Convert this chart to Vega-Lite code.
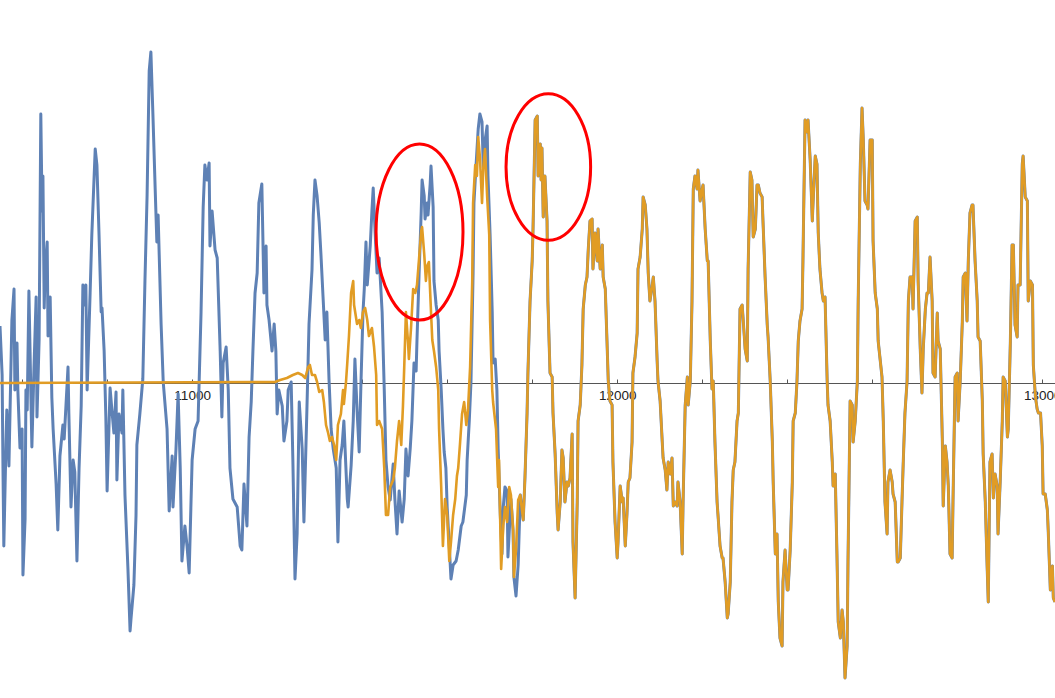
{
  "$schema": "https://vega.github.io/schema/vega-lite/v6.json",
  "width": 1055,
  "height": 698,
  "autosize": {"type": "none"},
  "padding": 0,
  "background": "white",
  "config": {"view": {"stroke": null}},
  "datasets": {
    "blue": [
      {"x":10548,"y":0.57},{"x":10553,"y":0.08},{"x":10555,"y":-0.85},{"x":10557,"y":-1.63},{"x":10562,"y":-0.62},{"x":10564,"y":-0.27},{"x":10569,"y":-0.83},{"x":10576,"y":0.63},{"x":10581,"y":0.94},{"x":10583,"y":-0.07},{"x":10588,"y":0.40},{"x":10590,"y":-0.07},{"x":10595,"y":-0.65},{"x":10600,"y":-0.46},{"x":10602,"y":-1.92},{"x":10607,"y":-1.36},{"x":10609,"y":-0.07},{"x":10612,"y":-0.27},{"x":10616,"y":0.92},{"x":10623,"y":-0.64},{"x":10628,"y":0.16},{"x":10633,"y":0.86},{"x":10635,"y":-0.34},{"x":10640,"y":0.43},{"x":10644,"y":2.69},{"x":10647,"y":1.72},{"x":10649,"y":2.07},{"x":10652,"y":0.75},{"x":10654,"y":1.10},{"x":10659,"y":1.41},{"x":10661,"y":0.47},{"x":10666,"y":0.86},{"x":10670,"y":-0.15},{"x":10673,"y":-0.46},{"x":10680,"y":-1.01},{"x":10684,"y":-1.47},{"x":10689,"y":-0.73},{"x":10696,"y":-0.42},{"x":10699,"y":-0.56},{"x":10708,"y":0.16},{"x":10710,"y":-0.31},{"x":10715,"y":-1.24},{"x":10720,"y":-0.77},{"x":10724,"y":-0.89},{"x":10729,"y":-1.78},{"x":10734,"y":-0.85},{"x":10739,"y":-0.23},{"x":10743,"y":0.98},{"x":10748,"y":0.78},{"x":10750,"y":0.98},{"x":10753,"y":-0.07},{"x":10760,"y":0.90},{"x":10764,"y":1.48},{"x":10772,"y":2.34},{"x":10776,"y":2.18},{"x":10781,"y":1.48},{"x":10786,"y":0.71},{"x":10788,"y":0.75},{"x":10793,"y":0.32},{"x":10797,"y":-0.34},{"x":10800,"y":-1.08},{"x":10807,"y":-0.05},{"x":10812,"y":-0.31},{"x":10816,"y":-0.50},{"x":10821,"y":-0.09},{"x":10823,"y":-0.97},{"x":10828,"y":-0.31},{"x":10835,"y":-0.50},{"x":10837,"y":-0.07},{"x":10842,"y":-1.12},{"x":10849,"y":-1.86},{"x":10854,"y":-2.48},{"x":10856,"y":-2.37},{"x":10863,"y":-2.02},{"x":10868,"y":-1.32},{"x":10870,"y":-0.62},{"x":10877,"y":-0.31},{"x":10884,"y":0.04},{"x":10889,"y":1.02},{"x":10894,"y":1.87},{"x":10899,"y":3.12},{"x":10903,"y":3.31},{"x":10908,"y":2.65},{"x":10913,"y":1.95},{"x":10917,"y":1.41},{"x":10920,"y":1.68},{"x":10927,"y":0.59},{"x":10932,"y":0.01},{"x":10941,"y":-0.46},{"x":10946,"y":-1.28},{"x":10953,"y":-0.73},{"x":10955,"y":-1.24},{"x":10962,"y":-0.66},{"x":10967,"y":-0.11},{"x":10972,"y":-0.85},{"x":10976,"y":-1.78},{"x":10983,"y":-1.43},{"x":10988,"y":-1.63},{"x":10993,"y":-1.90},{"x":11000,"y":-0.77},{"x":11007,"y":-0.46},{"x":11014,"y":-0.38},{"x":11021,"y":0.71},{"x":11026,"y":1.76},{"x":11030,"y":2.18},{"x":11035,"y":2.03},{"x":11040,"y":2.20},{"x":11042,"y":1.37},{"x":11047,"y":1.72},{"x":11054,"y":1.33},{"x":11059,"y":1.25},{"x":11066,"y":0.32},{"x":11070,"y":-0.34},{"x":11073,"y":0.20},{"x":11080,"y":0.36},{"x":11085,"y":-0.07},{"x":11089,"y":-0.85},{"x":11096,"y":-1.16},{"x":11106,"y":-1.24},{"x":11113,"y":-1.63},{"x":11117,"y":-1.67},{"x":11122,"y":-1.01},{"x":11129,"y":-1.43},{"x":11134,"y":-0.54},{"x":11139,"y":-0.19},{"x":11143,"y":0.32},{"x":11148,"y":0.90},{"x":11153,"y":1.10},{"x":11157,"y":1.80},{"x":11164,"y":1.99},{"x":11169,"y":0.90},{"x":11174,"y":1.37},{"x":11176,"y":0.78},{"x":11181,"y":0.63},{"x":11188,"y":0.32},{"x":11193,"y":0.59},{"x":11197,"y":0.32},{"x":11200,"y":-0.31},{"x":11204,"y":-0.07},{"x":11212,"y":-0.23},{"x":11216,"y":-0.58},{"x":11223,"y":-0.38},{"x":11226,"y":-0.07},{"x":11233,"y":0.01},{"x":11237,"y":-0.77},{"x":11242,"y":-1.96},{"x":11247,"y":-1.51},{"x":11252,"y":-0.19},{"x":11259,"y":-0.66},{"x":11263,"y":-1.39},{"x":11270,"y":-0.27},{"x":11275,"y":0.59},{"x":11282,"y":1.13},{"x":11285,"y":1.68},{"x":11289,"y":2.03},{"x":11294,"y":1.87},{"x":11299,"y":1.60},{"x":11303,"y":1.29},{"x":11308,"y":0.86},{"x":11313,"y":0.43},{"x":11317,"y":0.71},{"x":11322,"y":0.04},{"x":11327,"y":-0.46},{"x":11332,"y":-0.66},{"x":11339,"y":-0.85},{"x":11343,"y":-1.59},{"x":11348,"y":-0.77},{"x":11353,"y":-0.62},{"x":11357,"y":-0.38},{"x":11365,"y":-1.16},{"x":11367,"y":-1.24},{"x":11374,"y":-0.83},{"x":11379,"y":-0.38},{"x":11383,"y":0.24},{"x":11388,"y":-0.27},{"x":11393,"y":-0.69},{"x":11397,"y":-0.03},{"x":11402,"y":0.71},{"x":11405,"y":0.94},{"x":11409,"y":1.41},{"x":11412,"y":0.98},{"x":11419,"y":1.37},{"x":11423,"y":1.72},{"x":11426,"y":1.95},{"x":11430,"y":1.56},{"x":11435,"y":1.10},{"x":11440,"y":1.25},{"x":11447,"y":0.71},{"x":11452,"y":-0.07},{"x":11456,"y":-0.77},{"x":11461,"y":-1.04},{"x":11466,"y":-1.17},{"x":11473,"y":-0.81},{"x":11477,"y":-1.16},{"x":11482,"y":-1.51},{"x":11487,"y":-1.08},{"x":11494,"y":-1.39},{"x":11499,"y":-1.16},{"x":11503,"y":-0.66},{"x":11508,"y":-0.93},{"x":11513,"y":-0.66},{"x":11517,"y":-0.38},{"x":11522,"y":0.20},{"x":11527,"y":0.12},{"x":11529,"y":0.43},{"x":11534,"y":1.10},{"x":11539,"y":1.72},{"x":11541,"y":2.03},{"x":11546,"y":1.87},{"x":11548,"y":1.64},{"x":11553,"y":1.80},{"x":11555,"y":1.68},{"x":11560,"y":1.99},{"x":11562,"y":2.17},{"x":11567,"y":1.76},{"x":11569,"y":1.02},{"x":11574,"y":0.78},{"x":11579,"y":0.63},{"x":11581,"y":0.32},{"x":11586,"y":-0.07},{"x":11590,"y":-0.46},{"x":11593,"y":-0.69},{"x":11597,"y":-0.85},{"x":11600,"y":-1.24},{"x":11605,"y":-1.63},{"x":11609,"y":-1.96},{"x":11614,"y":-1.82},{"x":11621,"y":-1.78},{"x":11626,"y":-1.67},{"x":11633,"y":-1.43},{"x":11637,"y":-1.39},{"x":11645,"y":-1.12},{"x":11647,"y":-0.77},{"x":11652,"y":-0.38},{"x":11656,"y":0.01},{"x":11661,"y":1.10},{"x":11663,"y":1.80},{"x":11668,"y":2.18},{"x":11673,"y":2.54},{"x":11677,"y":2.69},{"x":11682,"y":2.61},{"x":11685,"y":2.15},{"x":11689,"y":2.42},{"x":11694,"y":2.57},{"x":11696,"y":2.07},{"x":11701,"y":1.48},{"x":11706,"y":0.71},{"x":11708,"y":0.20},{"x":11713,"y":0.24},{"x":11717,"y":-0.07},{"x":11720,"y":-0.66},{"x":11725,"y":-1.32},{"x":11729,"y":-1.71},{"x":11732,"y":-1.24},{"x":11736,"y":-1.04},{"x":11741,"y":-1.08},{"x":11743,"y":-1.74},{"x":11750,"y":-1.16},{"x":11755,"y":-1.47},{"x":11757,"y":-1.94},{"x":11762,"y":-2.13},{"x":11767,"y":-1.82},
      {"x":11772,"y":-1.12},{"x":11776,"y":-1.27},{"x":11779,"y":-1.37},{"x":11783,"y":-0.95},{"x":11788,"y":-0.30},{"x":11790,"y":0.10},{"x":11795,"y":0.82},{"x":11800,"y":1.22},{"x":11802,"y":1.54},{"x":11807,"y":2.63},{"x":11812,"y":2.67},{"x":11814,"y":2.07},{"x":11819,"y":2.39},{"x":11821,"y":2.03},{"x":11823,"y":2.35},{"x":11826,"y":1.66},{"x":11830,"y":2.07},{"x":11835,"y":1.62},{"x":11837,"y":0.82},{"x":11842,"y":0.10},{"x":11847,"y":0.06},{"x":11849,"y":-0.30},{"x":11854,"y":-0.71},{"x":11859,"y":-1.31},{"x":11861,"y":-1.47},{"x":11866,"y":-1.19},{"x":11870,"y":-0.67},{"x":11873,"y":-0.75},{"x":11877,"y":-1.19},{"x":11882,"y":-0.99},{"x":11885,"y":-1.03},{"x":11889,"y":-0.95},{"x":11894,"y":-0.51},{"x":11896,"y":-1.59},{"x":11901,"y":-2.15},{"x":11906,"y":-1.19},{"x":11908,"y":-0.38},{"x":11913,"y":-0.22},{"x":11917,"y":0.18},{"x":11920,"y":0.74},{"x":11925,"y":0.98},{"x":11929,"y":1.06},{"x":11932,"y":1.34},{"x":11936,"y":1.62},{"x":11941,"y":1.64},{"x":11943,"y":1.14},{"x":11948,"y":1.50},{"x":11953,"y":1.22},{"x":11955,"y":1.54},{"x":11960,"y":1.14},{"x":11965,"y":1.38},{"x":11967,"y":1.06},{"x":11972,"y":0.94},{"x":11976,"y":0.42},{"x":11979,"y":0.02},{"x":11983,"y":-0.18},{"x":11988,"y":-0.22},{"x":11990,"y":-0.79},{"x":11995,"y":-1.39},{"x":12000,"y":-1.75},{"x":12002,"y":-1.59},{"x":12007,"y":-1.03},{"x":12012,"y":-1.19},{"x":12014,"y":-1.15},{"x":12019,"y":-1.63},{"x":12023,"y":-1.31},{"x":12026,"y":-0.99},{"x":12030,"y":-0.95},{"x":12035,"y":-0.59},{"x":12037,"y":0.10},{"x":12042,"y":0.26},{"x":12047,"y":0.50},{"x":12049,"y":1.14},{"x":12054,"y":1.26},{"x":12059,"y":1.54},{"x":12061,"y":1.86},{"x":12066,"y":1.78},{"x":12070,"y":1.54},{"x":12073,"y":1.10},{"x":12077,"y":0.82},{"x":12082,"y":0.96},{"x":12085,"y":1.06},{"x":12089,"y":0.82},{"x":12094,"y":0.22},{"x":12096,"y":0.02},{"x":12101,"y":-0.18},{"x":12106,"y":-0.59},{"x":12108,"y":-0.75},{"x":12113,"y":-0.87},{"x":12117,"y":-1.07},{"x":12120,"y":-0.79},{"x":12125,"y":-0.91},{"x":12129,"y":-0.75},{"x":12132,"y":-1.23},{"x":12136,"y":-1.19},{"x":12141,"y":-1.23},{"x":12143,"y":-0.99},{"x":12148,"y":-1.19},{"x":12153,"y":-1.71},{"x":12155,"y":-1.19},{"x":12160,"y":-0.22},{"x":12165,"y":0.06},{"x":12167,"y":-0.22},{"x":12172,"y":0.02},{"x":12176,"y":0.82},{"x":12179,"y":1.94},{"x":12183,"y":2.07},{"x":12188,"y":1.94},{"x":12190,"y":2.13},{"x":12195,"y":1.82},{"x":12200,"y":1.94},{"x":12202,"y":1.98},{"x":12207,"y":1.54},{"x":12212,"y":1.22},{"x":12214,"y":1.22},{"x":12219,"y":0.42},{"x":12223,"y":-0.06},{"x":12226,"y":0.02},{"x":12230,"y":-0.59},{"x":12235,"y":-1.19},{"x":12237,"y":-1.31},{"x":12242,"y":-1.63},{"x":12247,"y":-1.75},{"x":12249,"y":-1.75},{"x":12254,"y":-1.99},{"x":12259,"y":-2.35},{"x":12261,"y":-2.31},{"x":12266,"y":-1.99},{"x":12270,"y":-1.19},{"x":12273,"y":-0.87},{"x":12277,"y":-0.79},{"x":12282,"y":-0.38},{"x":12285,"y":-0.30},{"x":12289,"y":0.74},{"x":12294,"y":0.78},{"x":12296,"y":0.66},{"x":12301,"y":0.34},{"x":12306,"y":0.22},{"x":12308,"y":1.14},{"x":12313,"y":2.11},{"x":12317,"y":2.03},{"x":12320,"y":1.46},{"x":12325,"y":1.54},{"x":12329,"y":1.98},{"x":12332,"y":1.98},{"x":12336,"y":1.90},{"x":12341,"y":1.86},{"x":12343,"y":1.62},{"x":12348,"y":1.06},{"x":12353,"y":0.58},{"x":12355,"y":0.46},{"x":12360,"y":0.02},{"x":12365,"y":-0.59},{"x":12367,"y":-0.99},{"x":12372,"y":-1.71},{"x":12376,"y":-1.51},{"x":12379,"y":-2.19},{"x":12383,"y":-2.55},{"x":12388,"y":-2.63},{"x":12390,"y":-1.99},{"x":12395,"y":-1.67},{"x":12400,"y":-2.07},{"x":12402,"y":-2.07},{"x":12407,"y":-1.67},{"x":12412,"y":-0.99},{"x":12414,"y":-0.38},{"x":12419,"y":-0.30},{"x":12423,"y":0.02},{"x":12426,"y":0.42},{"x":12430,"y":0.62},{"x":12435,"y":0.74},{"x":12437,"y":1.22},{"x":12442,"y":2.63},{"x":12447,"y":2.51},{"x":12449,"y":2.63},{"x":12454,"y":2.23},{"x":12459,"y":1.62},{"x":12461,"y":1.82},{"x":12466,"y":2.27},{"x":12470,"y":2.19},{"x":12473,"y":1.50},{"x":12477,"y":1.14},{"x":12482,"y":0.90},{"x":12485,"y":0.82},{"x":12489,"y":0.86},{"x":12494,"y":0.02},{"x":12496,"y":-0.22},{"x":12501,"y":-0.38},{"x":12506,"y":-0.79},{"x":12508,"y":-1.03},{"x":12513,"y":-0.91},{"x":12517,"y":-1.71},{"x":12520,"y":-2.39},{"x":12525,"y":-2.55},{"x":12529,"y":-2.27},{"x":12532,"y":-2.39},{"x":12536,"y":-2.95},{"x":12541,"y":-2.63},{"x":12543,"y":-1.79},{"x":12548,"y":-0.18},{"x":12553,"y":-0.22},{"x":12555,"y":-0.59},{"x":12560,"y":-0.38},{"x":12565,"y":0.02},{"x":12567,"y":0.82},{"x":12572,"y":2.19},{"x":12576,"y":2.75},{"x":12579,"y":2.43},{"x":12583,"y":1.82},{"x":12588,"y":1.78},{"x":12590,"y":1.74},{"x":12595,"y":2.43},{"x":12600,"y":2.43},{"x":12602,"y":1.42},{"x":12607,"y":0.90},{"x":12612,"y":0.74},{"x":12614,"y":0.42},{"x":12619,"y":0.22},{"x":12623,"y":0.06},{"x":12626,"y":-0.38},{"x":12630,"y":-1.19},{"x":12635,"y":-1.51},{"x":12637,"y":-0.99},{"x":12642,"y":-0.87},{"x":12647,"y":-0.99},{"x":12649,"y":-1.11},{"x":12654,"y":-1.19},{"x":12659,"y":-1.79},{"x":12661,"y":-1.79},{"x":12666,"y":-1.75},{"x":12670,"y":-1.19},{"x":12673,"y":-0.79},{"x":12677,"y":-0.30},{"x":12682,"y":0.02},{"x":12685,"y":0.82},{"x":12689,"y":1.06},{"x":12694,"y":1.06},{"x":12696,"y":0.74},{"x":12701,"y":1.62},{"x":12706,"y":1.66},{"x":12708,"y":1.02},{"x":12713,"y":0.34},{"x":12717,"y":-0.10},{"x":12720,"y":0.34},{"x":12725,"y":0.74},{"x":12729,"y":0.90},{"x":12732,"y":0.90},{"x":12736,"y":1.26},{"x":12741,"y":0.82},{"x":12743,"y":0.10},{"x":12748,"y":0.06},{"x":12753,"y":0.70},{"x":12755,"y":0.42},{"x":12760,"y":0.34},{"x":12765,"y":-0.59},{"x":12767,"y":-1.23},{"x":12772,"y":-0.63},{"x":12776,"y":-0.79},{"x":12779,"y":-1.03},{"x":12783,"y":-1.71},{"x":12788,"y":-1.75},{"x":12790,"y":-1.19},{"x":12795,"y":0.06},{"x":12800,"y":0.10},{"x":12802,"y":-0.38},{"x":12807,"y":0.02},{"x":12812,"y":0.62},{"x":12814,"y":1.06},{"x":12819,"y":1.10},{"x":12823,"y":0.62},{"x":12826,"y":1.22},{"x":12830,"y":1.70},{"x":12835,"y":1.78},{"x":12837,"y":1.78},{"x":12842,"y":1.22},{"x":12847,"y":0.82},{"x":12849,"y":0.46},{"x":12854,"y":0.42},{"x":12859,"y":-0.18},{"x":12861,"y":-0.71},{"x":12866,"y":-1.19},{"x":12870,"y":-1.79},{"x":12873,"y":-2.19},{"x":12877,"y":-0.79},{"x":12882,"y":-0.71},{"x":12885,"y":-1.15},{"x":12889,"y":-0.91},{"x":12894,"y":-1.03},{"x":12896,"y":-1.51},{"x":12901,"y":-0.99},{"x":12906,"y":-0.38},{"x":12908,"y":0.06},{"x":12913,"y":0.02},{"x":12918,"y":-0.54},{"x":12920,"y":-0.46},{"x":12925,"y":0.42},{"x":12929,"y":1.38},{"x":12932,"y":1.38},{"x":12936,"y":0.58},{"x":12941,"y":0.46},{"x":12943,"y":0.98},{"x":12948,"y":0.98},{"x":12953,"y":2.19},{"x":12955,"y":2.27},{"x":12960,"y":1.86},{"x":12965,"y":1.82},{"x":12967,"y":0.82},{"x":12972,"y":1.02},{"x":12977,"y":0.98},{"x":12979,"y":0.18},{"x":12984,"y":-0.14},{"x":12988,"y":-0.26},{"x":12991,"y":-0.30},{"x":12996,"y":-0.30},{"x":13000,"y":-0.63},{"x":13002,"y":-1.11},{"x":13007,"y":-1.11},{"x":13012,"y":-1.27},{"x":13014,"y":-1.47},{"x":13019,"y":-2.07},{"x":13024,"y":-1.83},{"x":13026,"y":-2.15},{"x":13030,"y":-2.19}
    ],
    "orange": [
      {"x":10548,"y":0.0},{"x":11195,"y":0.01},{"x":11207,"y":0.03},{"x":11223,"y":0.05},{"x":11237,"y":0.08},{"x":11249,"y":0.10},{"x":11259,"y":0.08},{"x":11266,"y":0.05},{"x":11273,"y":0.16},{"x":11277,"y":0.18},{"x":11282,"y":0.08},{"x":11289,"y":0.08},{"x":11294,"y":0.01},{"x":11299,"y":-0.09},{"x":11306,"y":-0.07},{"x":11310,"y":-0.19},{"x":11315,"y":-0.42},{"x":11320,"y":-0.50},{"x":11324,"y":-0.58},{"x":11329,"y":-0.54},{"x":11334,"y":-0.62},{"x":11339,"y":-0.77},{"x":11343,"y":-0.42},{"x":11350,"y":-0.31},{"x":11355,"y":-0.07},{"x":11357,"y":-0.21},{"x":11362,"y":0.01},{"x":11365,"y":0.20},{"x":11369,"y":0.47},{"x":11374,"y":0.90},{"x":11379,"y":1.02},{"x":11381,"y":0.78},{"x":11388,"y":0.59},{"x":11393,"y":0.63},{"x":11397,"y":0.55},{"x":11402,"y":0.71},{"x":11407,"y":0.75},{"x":11412,"y":0.63},{"x":11416,"y":0.47},{"x":11423,"y":0.55},{"x":11428,"y":0.36},{"x":11433,"y":0.08},{"x":11435,"y":-0.42},{"x":11440,"y":-0.38},{"x":11447,"y":-0.46},{"x":11452,"y":-0.85},{"x":11456,"y":-1.32},{"x":11461,"y":-1.32},{"x":11466,"y":-1.04},{"x":11473,"y":-0.97},{"x":11477,"y":-0.85},{"x":11482,"y":-0.58},{"x":11487,"y":-0.38},{"x":11492,"y":-0.62},{"x":11496,"y":-0.23},{"x":11499,"y":0.16},{"x":11503,"y":0.71},{"x":11508,"y":0.40},{"x":11510,"y":0.24},{"x":11515,"y":0.55},{"x":11520,"y":0.94},{"x":11525,"y":0.90},{"x":11529,"y":0.98},{"x":11534,"y":1.25},{"x":11539,"y":1.52},{"x":11541,"y":1.56},{"x":11546,"y":1.29},{"x":11550,"y":1.02},{"x":11553,"y":1.17},{"x":11557,"y":1.21},{"x":11562,"y":0.71},{"x":11565,"y":0.43},{"x":11569,"y":0.32},{"x":11574,"y":0.16},{"x":11579,"y":-0.07},{"x":11581,"y":-0.46},{"x":11586,"y":-1.04},{"x":11590,"y":-1.63},{"x":11595,"y":-1.16},{"x":11600,"y":-1.32},{"x":11605,"y":-1.78},{"x":11609,"y":-1.59},{"x":11614,"y":-1.32},{"x":11619,"y":-1.16},{"x":11623,"y":-0.93},{"x":11626,"y":-0.85},{"x":11630,"y":-0.62},{"x":11635,"y":-0.31},{"x":11640,"y":-0.19},{"x":11645,"y":-0.42},{"x":11649,"y":-0.27},{"x":11654,"y":0.16},{"x":11659,"y":1.02},{"x":11661,"y":1.80},{"x":11666,"y":2.18},{"x":11670,"y":2.07},{"x":11673,"y":2.46},{"x":11677,"y":2.26},{"x":11682,"y":1.80},{"x":11685,"y":2.15},{"x":11689,"y":2.34},{"x":11694,"y":1.87},{"x":11699,"y":1.48},{"x":11701,"y":0.63},{"x":11706,"y":-0.07},{"x":11708,"y":-0.19},{"x":11715,"y":-0.46},{"x":11720,"y":-1.04},{"x":11722,"y":-0.77},{"x":11727,"y":-1.86},{"x":11732,"y":-1.43},{"x":11736,"y":-1.24},{"x":11741,"y":-1.39},{"x":11746,"y":-1.04},{"x":11750,"y":-1.12},{"x":11755,"y":-1.47},{"x":11757,"y":-1.94},{"x":11762,"y":-1.67},{"x":11767,"y":-1.17},
      {"x":11772,"y":-1.12},{"x":11776,"y":-1.27},{"x":11779,"y":-1.37},{"x":11783,"y":-0.95},{"x":11788,"y":-0.30},{"x":11790,"y":0.10},{"x":11795,"y":0.82},{"x":11800,"y":1.22},{"x":11802,"y":1.54},{"x":11807,"y":2.63},{"x":11812,"y":2.67},{"x":11814,"y":2.07},{"x":11819,"y":2.39},{"x":11821,"y":2.03},{"x":11823,"y":2.35},{"x":11826,"y":1.66},{"x":11830,"y":2.07},{"x":11835,"y":1.62},{"x":11837,"y":0.82},{"x":11842,"y":0.10},{"x":11847,"y":0.06},{"x":11849,"y":-0.30},{"x":11854,"y":-0.71},{"x":11859,"y":-1.31},{"x":11861,"y":-1.47},{"x":11866,"y":-1.19},{"x":11870,"y":-0.67},{"x":11873,"y":-0.75},{"x":11877,"y":-1.19},{"x":11882,"y":-0.99},{"x":11885,"y":-1.03},{"x":11889,"y":-0.95},{"x":11894,"y":-0.51},{"x":11896,"y":-1.59},{"x":11901,"y":-2.15},{"x":11906,"y":-1.19},{"x":11908,"y":-0.38},{"x":11913,"y":-0.22},{"x":11917,"y":0.18},{"x":11920,"y":0.74},{"x":11925,"y":0.98},{"x":11929,"y":1.06},{"x":11932,"y":1.34},{"x":11936,"y":1.62},{"x":11941,"y":1.64},{"x":11943,"y":1.14},{"x":11948,"y":1.50},{"x":11953,"y":1.22},{"x":11955,"y":1.54},{"x":11960,"y":1.14},{"x":11965,"y":1.38},{"x":11967,"y":1.06},{"x":11972,"y":0.94},{"x":11976,"y":0.42},{"x":11979,"y":0.02},{"x":11983,"y":-0.18},{"x":11988,"y":-0.22},{"x":11990,"y":-0.79},{"x":11995,"y":-1.39},{"x":12000,"y":-1.75},{"x":12002,"y":-1.59},{"x":12007,"y":-1.03},{"x":12012,"y":-1.19},{"x":12014,"y":-1.15},{"x":12019,"y":-1.63},{"x":12023,"y":-1.31},{"x":12026,"y":-0.99},{"x":12030,"y":-0.95},{"x":12035,"y":-0.59},{"x":12037,"y":0.10},{"x":12042,"y":0.26},{"x":12047,"y":0.50},{"x":12049,"y":1.14},{"x":12054,"y":1.26},{"x":12059,"y":1.54},{"x":12061,"y":1.86},{"x":12066,"y":1.78},{"x":12070,"y":1.54},{"x":12073,"y":1.10},{"x":12077,"y":0.82},{"x":12082,"y":0.96},{"x":12085,"y":1.06},{"x":12089,"y":0.82},{"x":12094,"y":0.22},{"x":12096,"y":0.02},{"x":12101,"y":-0.18},{"x":12106,"y":-0.59},{"x":12108,"y":-0.75},{"x":12113,"y":-0.87},{"x":12117,"y":-1.07},{"x":12120,"y":-0.79},{"x":12125,"y":-0.91},{"x":12129,"y":-0.75},{"x":12132,"y":-1.23},{"x":12136,"y":-1.19},{"x":12141,"y":-1.23},{"x":12143,"y":-0.99},{"x":12148,"y":-1.19},{"x":12153,"y":-1.71},{"x":12155,"y":-1.19},{"x":12160,"y":-0.22},{"x":12165,"y":0.06},{"x":12167,"y":-0.22},{"x":12172,"y":0.02},{"x":12176,"y":0.82},{"x":12179,"y":1.94},{"x":12183,"y":2.07},{"x":12188,"y":1.94},{"x":12190,"y":2.13},{"x":12195,"y":1.82},{"x":12200,"y":1.94},{"x":12202,"y":1.98},{"x":12207,"y":1.54},{"x":12212,"y":1.22},{"x":12214,"y":1.22},{"x":12219,"y":0.42},{"x":12223,"y":-0.06},{"x":12226,"y":0.02},{"x":12230,"y":-0.59},{"x":12235,"y":-1.19},{"x":12237,"y":-1.31},{"x":12242,"y":-1.63},{"x":12247,"y":-1.75},{"x":12249,"y":-1.75},{"x":12254,"y":-1.99},{"x":12259,"y":-2.35},{"x":12261,"y":-2.31},{"x":12266,"y":-1.99},{"x":12270,"y":-1.19},{"x":12273,"y":-0.87},{"x":12277,"y":-0.79},{"x":12282,"y":-0.38},{"x":12285,"y":-0.30},{"x":12289,"y":0.74},{"x":12294,"y":0.78},{"x":12296,"y":0.66},{"x":12301,"y":0.34},{"x":12306,"y":0.22},{"x":12308,"y":1.14},{"x":12313,"y":2.11},{"x":12317,"y":2.03},{"x":12320,"y":1.46},{"x":12325,"y":1.54},{"x":12329,"y":1.98},{"x":12332,"y":1.98},{"x":12336,"y":1.90},{"x":12341,"y":1.86},{"x":12343,"y":1.62},{"x":12348,"y":1.06},{"x":12353,"y":0.58},{"x":12355,"y":0.46},{"x":12360,"y":0.02},{"x":12365,"y":-0.59},{"x":12367,"y":-0.99},{"x":12372,"y":-1.71},{"x":12376,"y":-1.51},{"x":12379,"y":-2.19},{"x":12383,"y":-2.55},{"x":12388,"y":-2.63},{"x":12390,"y":-1.99},{"x":12395,"y":-1.67},{"x":12400,"y":-2.07},{"x":12402,"y":-2.07},{"x":12407,"y":-1.67},{"x":12412,"y":-0.99},{"x":12414,"y":-0.38},{"x":12419,"y":-0.30},{"x":12423,"y":0.02},{"x":12426,"y":0.42},{"x":12430,"y":0.62},{"x":12435,"y":0.74},{"x":12437,"y":1.22},{"x":12442,"y":2.63},{"x":12447,"y":2.51},{"x":12449,"y":2.63},{"x":12454,"y":2.23},{"x":12459,"y":1.62},{"x":12461,"y":1.82},{"x":12466,"y":2.27},{"x":12470,"y":2.19},{"x":12473,"y":1.50},{"x":12477,"y":1.14},{"x":12482,"y":0.90},{"x":12485,"y":0.82},{"x":12489,"y":0.86},{"x":12494,"y":0.02},{"x":12496,"y":-0.22},{"x":12501,"y":-0.38},{"x":12506,"y":-0.79},{"x":12508,"y":-1.03},{"x":12513,"y":-0.91},{"x":12517,"y":-1.71},{"x":12520,"y":-2.39},{"x":12525,"y":-2.55},{"x":12529,"y":-2.27},{"x":12532,"y":-2.39},{"x":12536,"y":-2.95},{"x":12541,"y":-2.63},{"x":12543,"y":-1.79},{"x":12548,"y":-0.18},{"x":12553,"y":-0.22},{"x":12555,"y":-0.59},{"x":12560,"y":-0.38},{"x":12565,"y":0.02},{"x":12567,"y":0.82},{"x":12572,"y":2.19},{"x":12576,"y":2.75},{"x":12579,"y":2.43},{"x":12583,"y":1.82},{"x":12588,"y":1.78},{"x":12590,"y":1.74},{"x":12595,"y":2.43},{"x":12600,"y":2.43},{"x":12602,"y":1.42},{"x":12607,"y":0.90},{"x":12612,"y":0.74},{"x":12614,"y":0.42},{"x":12619,"y":0.22},{"x":12623,"y":0.06},{"x":12626,"y":-0.38},{"x":12630,"y":-1.19},{"x":12635,"y":-1.51},{"x":12637,"y":-0.99},{"x":12642,"y":-0.87},{"x":12647,"y":-0.99},{"x":12649,"y":-1.11},{"x":12654,"y":-1.19},{"x":12659,"y":-1.79},{"x":12661,"y":-1.79},{"x":12666,"y":-1.75},{"x":12670,"y":-1.19},{"x":12673,"y":-0.79},{"x":12677,"y":-0.30},{"x":12682,"y":0.02},{"x":12685,"y":0.82},{"x":12689,"y":1.06},{"x":12694,"y":1.06},{"x":12696,"y":0.74},{"x":12701,"y":1.62},{"x":12706,"y":1.66},{"x":12708,"y":1.02},{"x":12713,"y":0.34},{"x":12717,"y":-0.10},{"x":12720,"y":0.34},{"x":12725,"y":0.74},{"x":12729,"y":0.90},{"x":12732,"y":0.90},{"x":12736,"y":1.26},{"x":12741,"y":0.82},{"x":12743,"y":0.10},{"x":12748,"y":0.06},{"x":12753,"y":0.70},{"x":12755,"y":0.42},{"x":12760,"y":0.34},{"x":12765,"y":-0.59},{"x":12767,"y":-1.23},{"x":12772,"y":-0.63},{"x":12776,"y":-0.79},{"x":12779,"y":-1.03},{"x":12783,"y":-1.71},{"x":12788,"y":-1.75},{"x":12790,"y":-1.19},{"x":12795,"y":0.06},{"x":12800,"y":0.10},{"x":12802,"y":-0.38},{"x":12807,"y":0.02},{"x":12812,"y":0.62},{"x":12814,"y":1.06},{"x":12819,"y":1.10},{"x":12823,"y":0.62},{"x":12826,"y":1.22},{"x":12830,"y":1.70},{"x":12835,"y":1.78},{"x":12837,"y":1.78},{"x":12842,"y":1.22},{"x":12847,"y":0.82},{"x":12849,"y":0.46},{"x":12854,"y":0.42},{"x":12859,"y":-0.18},{"x":12861,"y":-0.71},{"x":12866,"y":-1.19},{"x":12870,"y":-1.79},{"x":12873,"y":-2.19},{"x":12877,"y":-0.79},{"x":12882,"y":-0.71},{"x":12885,"y":-1.15},{"x":12889,"y":-0.91},{"x":12894,"y":-1.03},{"x":12896,"y":-1.51},{"x":12901,"y":-0.99},{"x":12906,"y":-0.38},{"x":12908,"y":0.06},{"x":12913,"y":0.02},{"x":12918,"y":-0.54},{"x":12920,"y":-0.46},{"x":12925,"y":0.42},{"x":12929,"y":1.38},{"x":12932,"y":1.38},{"x":12936,"y":0.58},{"x":12941,"y":0.46},{"x":12943,"y":0.98},{"x":12948,"y":0.98},{"x":12953,"y":2.19},{"x":12955,"y":2.27},{"x":12960,"y":1.86},{"x":12965,"y":1.82},{"x":12967,"y":0.82},{"x":12972,"y":1.02},{"x":12977,"y":0.98},{"x":12979,"y":0.18},{"x":12984,"y":-0.14},{"x":12988,"y":-0.26},{"x":12991,"y":-0.30},{"x":12996,"y":-0.30},{"x":13000,"y":-0.63},{"x":13002,"y":-1.11},{"x":13007,"y":-1.11},{"x":13012,"y":-1.27},{"x":13014,"y":-1.47},{"x":13019,"y":-2.07},{"x":13024,"y":-1.83},{"x":13026,"y":-2.15},{"x":13030,"y":-2.19}
    ],
    "ring1": [{"x": 11535, "y": 1.51}],
    "ring2": [{"x": 11838, "y": 2.16}]
  },
  "encoding": {
    "x": {
      "field": "x",
      "type": "quantitative",
      "scale": {"domain": [10548, 13030], "nice": false, "zero": false},
      "axis": {
        "orient": "bottom",
        "offset": -315,
        "title": null,
        "grid": false,
        "values": [10600, 10800, 11000, 11200, 11400, 11600, 11800, 12000, 12200, 12400, 12600, 12800, 13000],
        "format": "d",
        "labelExpr": "datum.value % 1000 === 0 ? datum.label : ''",
        "tickSize": -4,
        "tickColor": "#555555",
        "domainColor": "#555555",
        "domainWidth": 1,
        "labelPadding": 9,
        "labelFont": "Liberation Sans",
        "labelFontSize": 13.5,
        "labelColor": "#222222",
        "labelOverlap": false,
        "labelFlush": false,
        "labelBound": false
      }
    },
    "y": {
      "field": "y",
      "type": "quantitative",
      "scale": {"domain": [-3.15, 3.83], "nice": false, "zero": false},
      "axis": null
    }
  },
  "layer": [
    {
      "data": {"name": "blue"},
      "mark": {"type": "line", "color": "#5E81B5", "strokeWidth": 3, "strokeJoin": "round", "clip": true}
    },
    {
      "data": {"name": "orange"},
      "mark": {"type": "line", "color": "#E19C24", "strokeWidth": 2.6, "strokeJoin": "round", "clip": true}
    },
    {
      "data": {"name": "ring1"},
      "mark": {
        "type": "point",
        "shape": "M -0.494,0 A 0.494,1 0 1,1 0.494,0 A 0.494,1 0 1,1 -0.494,0 Z",
        "size": 30976,
        "filled": false,
        "stroke": "#FF0000",
        "strokeWidth": 3,
        "opacity": 1
      }
    },
    {
      "data": {"name": "ring2"},
      "mark": {
        "type": "point",
        "shape": "M -0.577,0 A 0.577,1 0 1,1 0.577,0 A 0.577,1 0 1,1 -0.577,0 Z",
        "size": 21492,
        "filled": false,
        "stroke": "#FF0000",
        "strokeWidth": 3,
        "opacity": 1
      }
    }
  ]
}
